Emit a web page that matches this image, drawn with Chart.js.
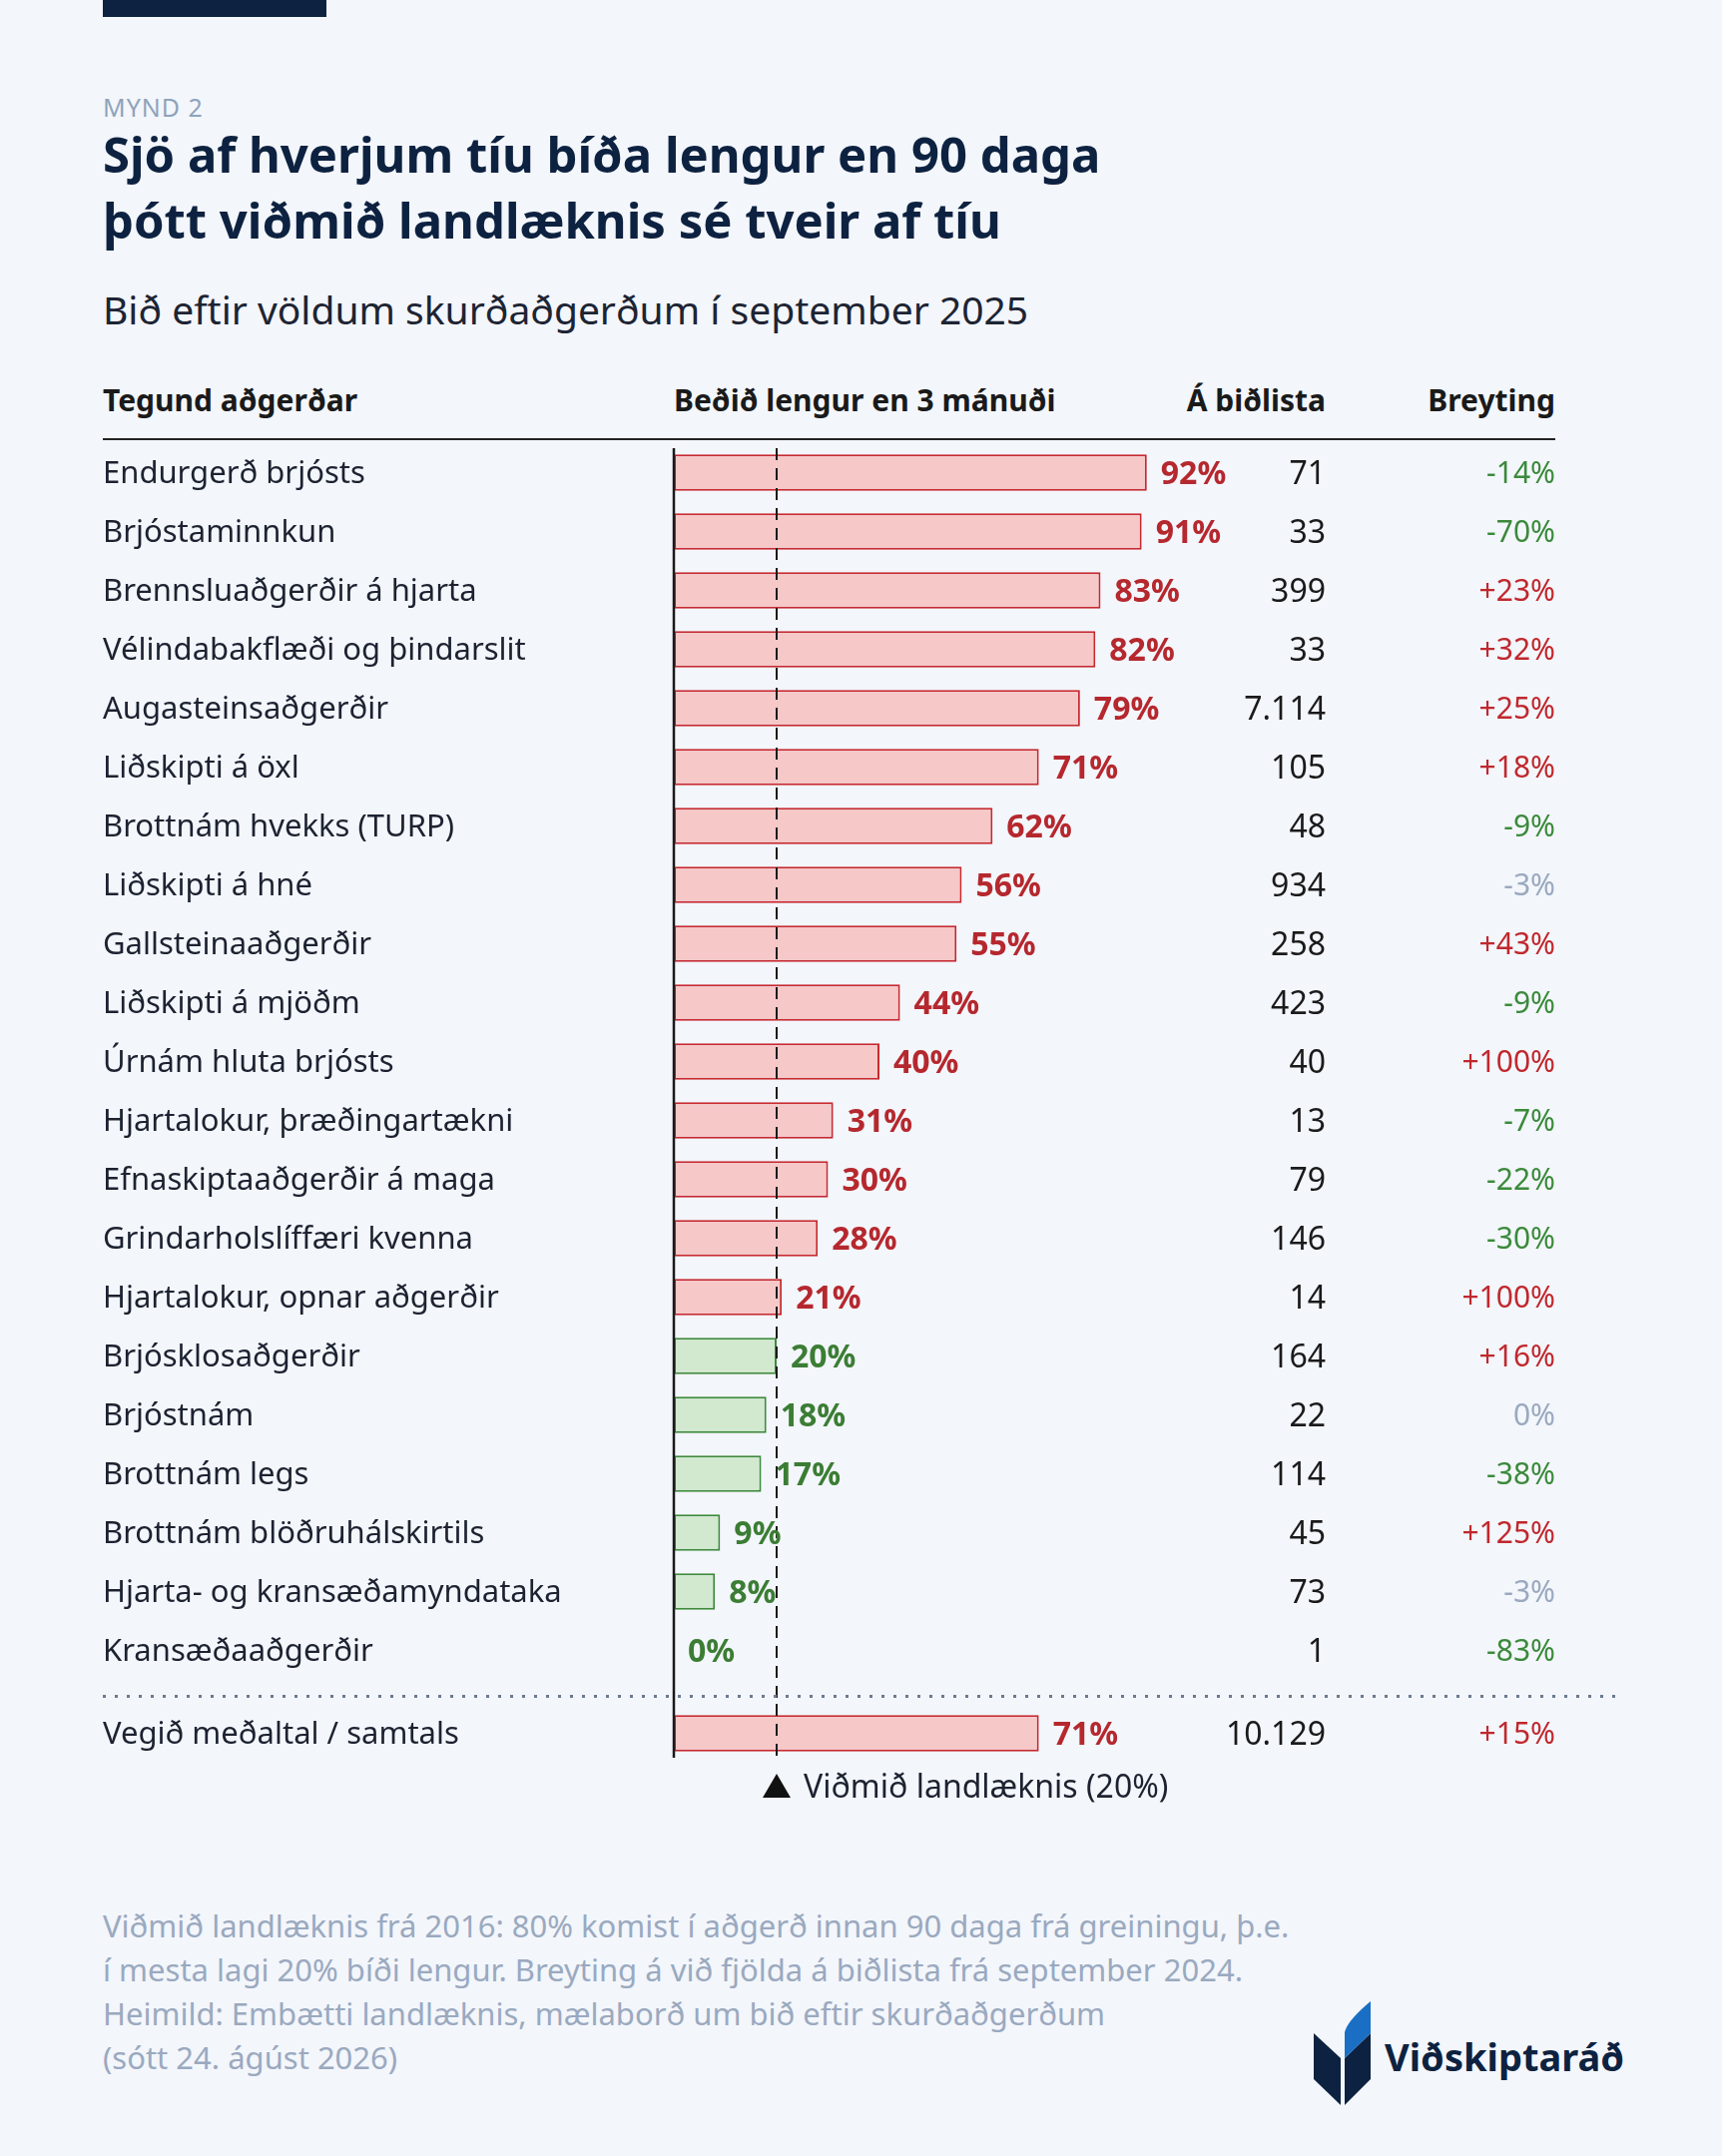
<!DOCTYPE html>
<html lang="is">
<head>
<meta charset="utf-8">
<title>Mynd 2</title>
<script src="https://cdn.jsdelivr.net/npm/chart.js@4.4.1/dist/chart.umd.min.js"></script>
<style>
  body {
    margin: 0;
    width: 1725px;
    height: 2160px;
    position: relative;
    overflow: hidden;
    background: #f3f6fb;
    font-family: "Noto Sans", Roboto, sans-serif;
    color: #1c2230;
  }
  .abs { position: absolute; white-space: nowrap; }
  .topbar { left: 103px; top: 0; width: 224px; height: 17px; background: #0d2240; }
  .kicker { left: 103px; top: 92px; font-size: 25px; line-height: 30px; color: #8fa3bb; letter-spacing: 1px; }
  .title { left: 103px; top: 121px; font-size: 49px; line-height: 66px; font-weight: 700; color: #0d2240; }
  .subtitle { left: 103px; top: 288px; font-size: 39px; line-height: 44px; color: #1d2433; }
  .head { top: 383px; font-size: 30px; line-height: 36px; font-weight: 700; color: #1a1a1a; }
  .rule { left: 103px; top: 439px; width: 1455px; height: 2px; background: #222; }
  .dots {
    left: 103px; top: 1698px; width: 1523px; height: 3px;
    background: repeating-linear-gradient(90deg, #6b7a90 0 3px, transparent 3px 12px);
  }
  .note { left: 103px; top: 1907px; font-size: 31px; line-height: 44px; color: #9aa9bf; }
  .logo-text { left: 1387px; top: 2037px; font-size: 38px; line-height: 46px; font-weight: 700; color: #0d2240; }
  canvas { position: absolute; left: 0; }
</style>
</head>
<body>
<div class="abs topbar"></div>
<div class="abs kicker">MYND 2</div>
<div class="abs title">Sjö af hverjum tíu bíða lengur en 90 daga<br>þótt viðmið landlæknis sé tveir af tíu</div>
<div class="abs subtitle">Bið eftir völdum skurðaðgerðum í september 2025</div>

<div class="abs head" style="left:103px">Tegund aðgerðar</div>
<div class="abs head" style="left:675px">Beðið lengur en 3 mánuði</div>
<div class="abs head" style="right:397px">Á biðlista</div>
<div class="abs head" style="right:167px">Breyting</div>
<div class="abs rule"></div>

<canvas id="rows-chart" width="1725" height="1263" style="top:444px"></canvas>
<div class="abs dots"></div>
<canvas id="total-chart" width="1725" height="159" style="top:1707px"></canvas>

<div class="abs note">Viðmið landlæknis frá 2016: 80% komist í aðgerð innan 90 daga frá greiningu, þ.e.<br>í mesta lagi 20% bíði lengur. Breyting á við fjölda á biðlista frá september 2024.<br>Heimild: Embætti landlæknis, mælaborð um bið eftir skurðaðgerðum<br>(sótt 24. ágúst 2026)</div>

<svg class="abs" style="left:1310px;top:2000px" width="70" height="115" viewBox="1310 2000 70 115">
  <polygon points="1316,2037 1343,2062 1343,2109 1316,2083" fill="#0d2240"/>
  <polygon points="1347,2062 1373,2037 1373,2083 1347,2109" fill="#0d2240"/>
  <path d="M1373,2005 L1373,2037 L1347,2062 L1347,2036 Q1350,2024 1373,2005 Z" fill="#1a6fc4"/>
</svg>
<div class="abs logo-text">Viðskiptaráð</div>

<script>
const procedures = [
  'Endurgerð brjósts',
  'Brjóstaminnkun',
  'Brennsluaðgerðir á hjarta',
  'Vélindabakflæði og þindarslit',
  'Augasteinsaðgerðir',
  'Liðskipti á öxl',
  'Brottnám hvekks (TURP)',
  'Liðskipti á hné',
  'Gallsteinaaðgerðir',
  'Liðskipti á mjöðm',
  'Úrnám hluta brjósts',
  'Hjartalokur, þræðingartækni',
  'Efnaskiptaaðgerðir á maga',
  'Grindarholslíffæri kvenna',
  'Hjartalokur, opnar aðgerðir',
  'Brjósklosaðgerðir',
  'Brjóstnám',
  'Brottnám legs',
  'Brottnám blöðruhálskirtils',
  'Hjarta- og kransæðamyndataka',
  'Kransæðaaðgerðir',
];
// share waiting more than 3 months (%)
const overThreeMonths = [92, 91, 83, 82, 79, 71, 62, 56, 55, 44, 40, 31, 30, 28, 21, 20, 18, 17, 9, 8, 0];
const waitingList = [71, 33, 399, 33, 7114, 105, 48, 934, 258, 423, 40, 13, 79, 146, 14, 164, 22, 114, 45, 73, 1];
const changePct = [-14, -70, 23, 32, 25, 18, -9, -3, 43, -9, 100, -7, -22, -30, 100, 16, 0, -38, 125, -3, -83];

const totalLabel = ['Vegið meðaltal / samtals'];
const totalOver = [71];
const totalWaiting = [10129];
const totalChange = [15];

const guideline = 20;
const axisMax = 100;

const FONT = '"Noto Sans", Roboto, sans-serif';
const RED = '#b5282e';
const RED_LINE = '#c62a30';
const RED_FILL = '#f6c8c8';
const GREEN = '#3b7d34';
const GREEN_LINE = '#3f8a3c';
const GREEN_FILL = '#d2e9d0';
const GREY = '#9aa9bf';

const formatCount = (value) => String(value).replace(/\B(?=(\d{3})+(?!\d))/g, '.');
const formatChange = (value) => `${value > 0 ? '+' : ''}${value}%`;
const changeColor = (value) => (value > 3 ? '#c0282d' : value < -3 ? '#3b8a3b' : GREY);
const isOver = (value) => value > guideline;

const tablePlugin = (labels, counts, changes, showLegend) => ({
  id: 'table',
  afterDatasetsDraw(chart) {
    const { ctx, scales, chartArea } = chart;
    const meta = chart.getDatasetMeta(0);
    const values = chart.data.datasets[0].data;
    const zeroX = scales.x.getPixelForValue(0);
    const guideX = scales.x.getPixelForValue(guideline);
    const lineBottom = showLegend ? chartArea.bottom - 5 : chart.height;
    const lineTop = showLegend ? 0 : 5;

    ctx.save();
    // axis line
    ctx.strokeStyle = '#1a1a1a';
    ctx.lineWidth = 2.5;
    ctx.beginPath();
    ctx.moveTo(zeroX, lineTop);
    ctx.lineTo(zeroX, lineBottom);
    ctx.stroke();

    // guideline
    ctx.lineWidth = 2;
    ctx.setLineDash([12, 8]);
    ctx.beginPath();
    ctx.moveTo(guideX, lineTop);
    ctx.lineTo(guideX, lineBottom);
    ctx.stroke();
    ctx.setLineDash([]);

    ctx.textBaseline = 'middle';
    meta.data.forEach((bar, i) => {
      const y = bar.y + 2;
      ctx.font = `400 31px ${FONT}`;
      ctx.fillStyle = '#1c2230';
      ctx.textAlign = 'left';
      ctx.fillText(labels[i], 103, y);

      ctx.font = `700 32px ${FONT}`;
      ctx.fillStyle = isOver(values[i]) ? RED : GREEN;
      ctx.fillText(`${values[i]}%`, bar.x + 14, y);

      ctx.font = `400 32px ${FONT}`;
      ctx.textAlign = 'right';
      ctx.fillStyle = '#1a1a1a';
      ctx.fillText(formatCount(counts[i]), 1328, y);

      ctx.font = `400 30px ${FONT}`;
      ctx.fillStyle = changeColor(changes[i]);
      ctx.fillText(formatChange(changes[i]), 1558, y);
    });

    if (showLegend) {
      const ly = chartArea.bottom + 24;
      ctx.fillStyle = '#111';
      ctx.beginPath();
      ctx.moveTo(guideX, ly - 13);
      ctx.lineTo(guideX + 14, ly + 11);
      ctx.lineTo(guideX - 14, ly + 11);
      ctx.closePath();
      ctx.fill();
      ctx.font = `400 32px ${FONT}`;
      ctx.textAlign = 'left';
      ctx.fillStyle = '#1c2230';
      ctx.fillText(`Viðmið landlæknis (${guideline}%)`, guideX + 27, ly + 2);
    }
    ctx.restore();
  },
});

const buildChart = (canvas, labels, values, counts, changes, bottomPad, showLegend) =>
  new Chart(canvas, {
    type: 'bar',
    data: {
      labels,
      datasets: [
        {
          data: values,
          backgroundColor: values.map((v) => (isOver(v) ? RED_FILL : GREEN_FILL)),
          borderColor: values.map((v) => (isOver(v) ? RED_LINE : GREEN_LINE)),
          borderWidth: 2,
          borderSkipped: false,
          barPercentage: 0.62,
          categoryPercentage: 1,
        },
      ],
    },
    options: {
      indexAxis: 'y',
      responsive: false,
      animation: false,
      devicePixelRatio: 1,
      layout: { padding: { left: 675, right: 535, top: 0, bottom: bottomPad } },
      scales: {
        x: { min: 0, max: axisMax, display: false },
        y: { display: false },
      },
      plugins: {
        legend: { display: false },
        tooltip: { enabled: false },
      },
    },
    plugins: [tablePlugin(labels, counts, changes, showLegend)],
  });

buildChart(document.getElementById('rows-chart'), procedures, overThreeMonths, waitingList, changePct, 24, false);
buildChart(document.getElementById('total-chart'), totalLabel, totalOver, totalWaiting, totalChange, 100, true);
</script>
</body>
</html>
